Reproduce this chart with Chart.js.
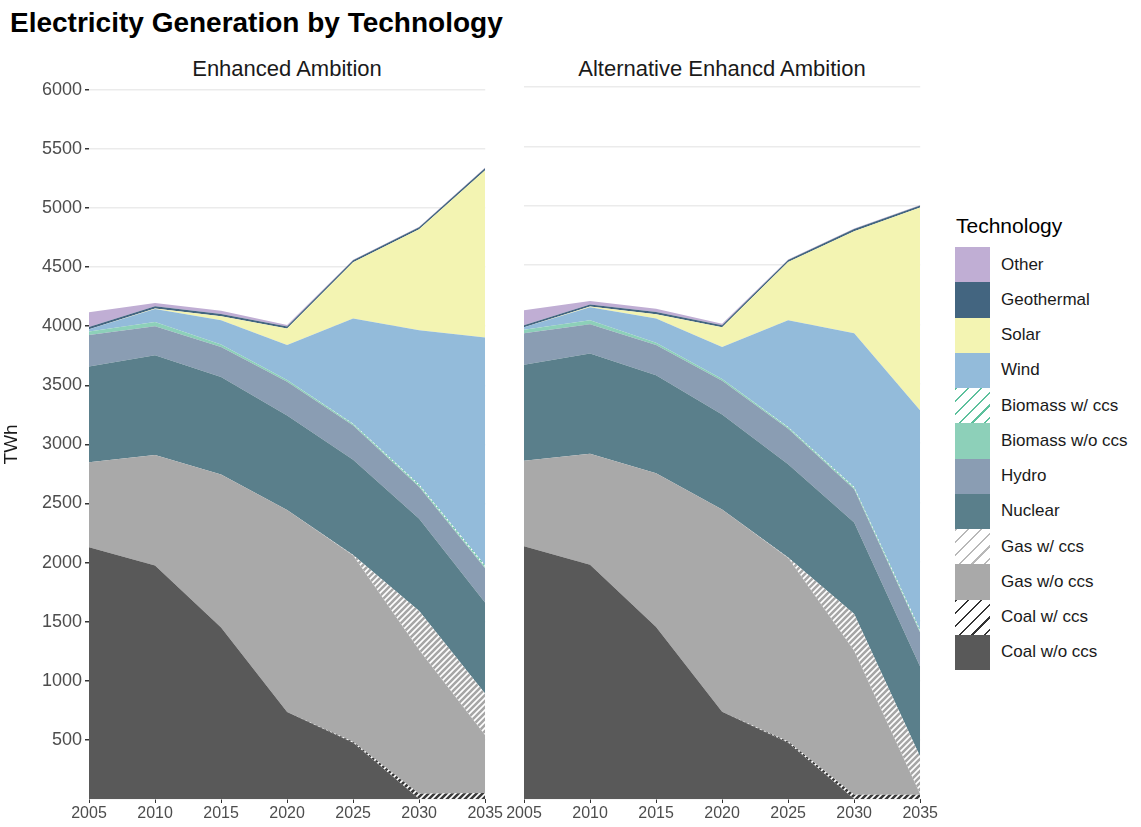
<!DOCTYPE html>
<html>
<head>
<meta charset="utf-8">
<script src="https://cdn.jsdelivr.net/npm/chart.js@4.4.1/dist/chart.umd.min.js"></script>
<style>
  body { margin: 0; background: #fff; font-family: "Liberation Sans", Arial, sans-serif; }
  #page { position: relative; width: 1141px; height: 827px; overflow: hidden; }
  #title { position: absolute; left: 10px; top: 7px; font-size: 28px; font-weight: bold; color: #000; white-space: nowrap; }
  .strip { position: absolute; top: 56px; width: 420px; text-align: center; font-size: 22px; color: #1a1a1a; white-space: nowrap; }
  canvas { position: absolute; }
  #legend { position: absolute; left: 955px; top: 211px; }
  #legend .lt { font-size: 21px; color: #000; height: 36px; line-height: 30px; margin-left: 1px; }
  #legend .row { height: 35.25px; display: flex; align-items: center; }
  #legend .key { width: 35px; height: 35.25px; flex: none; }
  #legend .lab { margin-left: 11px; font-size: 17px; color: #1a1a1a; white-space: nowrap; }
</style>
</head>
<body>
<div id="page">
  <div id="title">Electricity Generation by Technology</div>
  <div class="strip" style="left:77px">Enhanced Ambition</div>
  <div class="strip" style="left:512px">Alternative Enhancd Ambition</div>
  <canvas id="leftChart" width="504" height="751" style="left:0;top:76px"></canvas>
  <canvas id="rightChart" width="434" height="751" style="left:505px;top:76px"></canvas>
  <div id="legend"></div>
</div>
<script>
  const years = ['2005', '2010', '2015', '2020', '2025', '2030', '2035'];

  // Enhanced Ambition (TWh)
  const eaCoalWo  = [2130, 1975, 1450, 735, 475, 0, 0];
  const eaCoalCcs = [0, 0, 0, 0, 10, 45, 50];
  const eaGasWo   = [720, 935, 1295, 1710, 1575, 1215, 490];
  const eaGasCcs  = [0, 0, 0, 0, 5, 330, 350];
  const eaNuclear = [810, 845, 825, 800, 805, 780, 770];
  const eaHydro   = [265, 245, 255, 285, 290, 270, 290];
  const eaBioWo   = [30, 35, 20, 15, 10, 10, 10];
  const eaBioCcs  = [0, 0, 0, 0, 5, 10, 15];
  const eaWind    = [20, 110, 205, 295, 890, 1305, 1930];
  const eaSolar   = [0, 5, 35, 140, 475, 855, 1415];
  const eaGeo     = [18, 18, 18, 18, 18, 18, 18];
  const eaOther   = [125, 28, 28, 12, 4, 4, 4];

  // Alternative Enhancd Ambition (TWh)
  const aeCoalWo  = [2130, 1975, 1450, 735, 475, 0, 0];
  const aeCoalCcs = [0, 0, 0, 0, 10, 35, 35];
  const aeGasWo   = [720, 935, 1295, 1705, 1545, 1215, 5];
  const aeGasCcs  = [0, 0, 0, 0, 5, 310, 315];
  const aeNuclear = [810, 845, 825, 800, 785, 770, 760];
  const aeHydro   = [265, 245, 255, 285, 300, 280, 285];
  const aeBioWo   = [30, 35, 20, 15, 10, 10, 10];
  const aeBioCcs  = [0, 0, 0, 0, 5, 10, 15];
  const aeWind    = [20, 110, 205, 270, 900, 1295, 1848];
  const aeSolar   = [0, 5, 35, 165, 490, 860, 1711];
  const aeGeo     = [18, 18, 18, 18, 18, 18, 18];
  const aeOther   = [125, 28, 28, 12, 4, 4, 4];

  // bottom to top
  const techNames = ['Coal w/o ccs', 'Coal w/ ccs', 'Gas w/o ccs', 'Gas w/ ccs', 'Nuclear', 'Hydro',
    'Biomass w/o ccs', 'Biomass w/ ccs', 'Wind', 'Solar', 'Geothermal', 'Other'];
  const techColors = ['#595959', '#3a3a3a', '#a9a9a9', '#a6a6a6', '#5a7f8b', '#8a9db3',
    '#8dd0b9', '#63c2a0', '#93bbda', '#f3f4b2', '#436580', '#c0aed4'];
  const hatched = [false, true, false, true, false, false, false, true, false, false, false, false];

  function makeHatch(lineColor, size, width) {
    const c = document.createElement('canvas');
    c.width = size;
    c.height = size;
    const g = c.getContext('2d');
    g.fillStyle = '#ffffff';
    g.fillRect(0, 0, size, size);
    g.strokeStyle = lineColor;
    g.lineWidth = width;
    g.beginPath();
    g.moveTo(-size, size * 2); g.lineTo(size * 2, -size);
    g.moveTo(-size, size); g.lineTo(size, -size);
    g.moveTo(0, size * 2); g.lineTo(size * 2, 0);
    g.stroke();
    return g.createPattern(c, 'repeat');
  }

  function buildDatasets(series) {
    return series.map((values, i) => ({
      label: techNames[i],
      data: values,
      backgroundColor: hatched[i] ? makeHatch(techColors[i], 6, 2.6) : techColors[i],
      borderColor: 'transparent',
      borderWidth: 0,
      pointRadius: 0,
      fill: i === 0 ? 'origin' : '-1',
      tension: 0
    }));
  }

  function makeOptions(isLeft) {
    return {
      responsive: false,
      animation: false,
      layout: { padding: { top: 11, right: 18, left: 0, bottom: 0 } },
      plugins: { legend: { display: false }, tooltip: { enabled: false } },
      scales: {
        x: {
          offset: false,
          ticks: { font: { size: 16, family: 'Liberation Sans' }, color: '#4d4d4d', padding: 1, maxRotation: 0, autoSkip: false },
          grid: { drawOnChartArea: false, tickLength: 4, tickColor: '#333333', tickWidth: 1 },
          border: { display: false },
          afterFit: (s) => { s.height = 28; }
        },
        y: {
          stacked: true,
          min: 0,
          max: 6000,
          ticks: {
            display: isLeft,
            stepSize: 500,
            callback: (v) => (v === 0 ? '' : String(v)),
            font: { size: 18, family: 'Liberation Sans' },
            color: '#4d4d4d',
            padding: 3
          },
          grid: {
            color: '#ebebeb',
            lineWidth: 1.5,
            drawTicks: isLeft,
            tickLength: 4,
            tickColor: (ctx) => (ctx.tick && ctx.tick.value === 0 ? 'rgba(0,0,0,0)' : '#333333')
          },
          border: { display: false },
          title: { display: isLeft, text: 'TWh', font: { size: 19, family: 'Liberation Sans' }, color: '#1a1a1a', padding: { top: 0, bottom: 0 } },
          afterFit: (s) => { s.width = isLeft ? 89 : 19; }
        }
      }
    };
  }

  function buildLegend() {
    const box = document.getElementById('legend');
    let html = '<div class="lt">Technology</div>';
    for (let i = techNames.length - 1; i >= 0; i--) {
      let bg = techColors[i];
      if (hatched[i]) {
        const lc = i === 1 ? '#333333' : (i === 3 ? '#b8b8b8' : '#5cc09c');
        bg = 'repeating-linear-gradient(135deg, ' + lc + ' 0px, ' + lc + ' 1.6px, #ffffff 1.6px, #ffffff 9px)';
      }
      html += '<div class="row"><div class="key" style="background:' + bg + '"></div><div class="lab">' + techNames[i] + '</div></div>';
    }
    box.innerHTML = html;
  }

  window.addEventListener('DOMContentLoaded', () => {
    new Chart(document.getElementById('leftChart'), {
      type: 'line',
      data: {
        labels: years,
        datasets: buildDatasets([eaCoalWo, eaCoalCcs, eaGasWo, eaGasCcs, eaNuclear, eaHydro,
          eaBioWo, eaBioCcs, eaWind, eaSolar, eaGeo, eaOther])
      },
      options: makeOptions(true)
    });

    new Chart(document.getElementById('rightChart'), {
      type: 'line',
      data: {
        labels: years,
        datasets: buildDatasets([aeCoalWo, aeCoalCcs, aeGasWo, aeGasCcs, aeNuclear, aeHydro,
          aeBioWo, aeBioCcs, aeWind, aeSolar, aeGeo, aeOther])
      },
      options: makeOptions(false)
    });

    buildLegend();
  });
</script>
</body>
</html>
